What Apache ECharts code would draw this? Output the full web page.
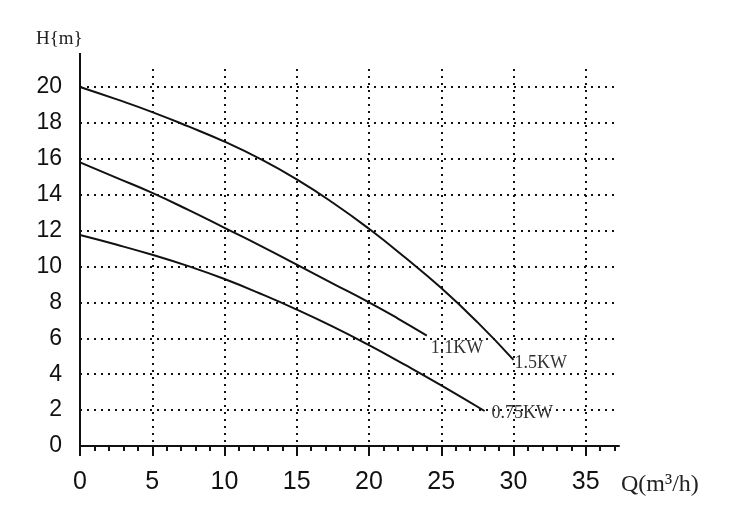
<!DOCTYPE html>
<html>
<head>
<meta charset="utf-8">
<title>H-Q curve</title>
<script src="https://cdn.jsdelivr.net/npm/echarts@6.0.0/dist/echarts.min.js"></script>
<style>
  html, body { margin: 0; padding: 0; background: #fff; }
  #main { width: 750px; height: 519px; }
</style>
</head>
<body>
<div id="main"></div>
<script>
// tick labels
const xTicks = [0, 5, 10, 15, 20, 25, 30, 35];
const yTicks = [0, 2, 4, 6, 8, 10, 12, 14, 16, 18, 20];

// curves: [Q, H]
const q075 = [0, 2.5, 5, 7.5, 10, 12.5, 15, 17.5, 20, 22.5, 25, 28];
const h075 = [11.75, 11.22, 10.65, 10.02, 9.3, 8.48, 7.6, 6.65, 5.62, 4.52, 3.38, 1.95];

const q11 = [0, 2.5, 5, 7.5, 10, 12.5, 15, 17.5, 20, 22, 24];
const h11 = [15.8, 14.95, 14.1, 13.15, 12.15, 11.15, 10.1, 9.05, 8.0, 7.1, 6.15];

const q15 = [0, 2.5, 5, 7.5, 10, 12.5, 15, 17.5, 20, 22.5, 25, 27.5, 30];
const h15 = [20.0, 19.32, 18.6, 17.8, 16.95, 15.98, 14.85, 13.55, 12.1, 10.5, 8.8, 6.9, 4.8];

const names = ['0.75KW', '1.1KW', '1.5KW'];

function pairs(xs, ys) {
  return xs.map((x, i) => [x, ys[i]]);
}

const chart = echarts.init(document.getElementById('main'));

const dotted = {
  color: '#111',
  width: 2,
  type: [2, 5]
};

function curve(name, data, offset) {
  return {
    name: name,
    type: 'line',
    smooth: true,
    showSymbol: false,
    data: data,
    lineStyle: { color: '#111', width: 2 },
    endLabel: {
      show: true,
      formatter: '{a}',
      offset: offset,
      distance: 4,
      color: '#333',
      fontFamily: 'Liberation Serif',
      fontSize: 18
    }
  };
}

const option = {
  animation: false,
  backgroundColor: '#fff',
  grid: {
    left: 80,
    right: 131,
    top: 69,
    bottom: 73,
    outerBoundsMode: 'none'
  },
  xAxis: {
    type: 'value',
    min: 0,
    max: 37.3,
    interval: 5,
    axisLine: { lineStyle: { color: '#111', width: 2 } },
    axisTick: {
      customValues: xTicks,
      length: 10,
      lineStyle: { color: '#111', width: 2 }
    },
    minorTick: {
      show: true,
      splitNumber: 5,
      length: 5,
      lineStyle: { color: '#111', width: 2 }
    },
    axisLabel: {
      customValues: xTicks,
      margin: 24,
      color: '#111',
      fontFamily: 'Liberation Sans',
      fontSize: 25
    },
    splitLine: { show: true, lineStyle: dotted }
  },
  yAxis: {
    type: 'value',
    min: 0,
    max: 21,
    interval: 2,
    axisLine: { show: true, lineStyle: { color: '#111', width: 2 } },
    axisTick: { show: false, customValues: yTicks },
    axisLabel: {
      customValues: yTicks,
      margin: 18,
      color: '#111',
      fontFamily: 'Liberation Sans',
      fontSize: 23
    },
    splitLine: { show: true, lineStyle: dotted }
  },
  series: [
    curve(names[0], pairs(q075, h075), [3, 2]),
    curve(names[1], pairs(q11, h11), [0, 13]),
    curve(names[2], pairs(q15, h15), [-3, 3])
  ]
};

chart.setOption(option);

// axis names and the short run of the H axis above the grid
const axisTop = chart.convertToPixel({ gridIndex: 0 }, [0, 21]);
const axisEnd = chart.convertToPixel({ gridIndex: 0 }, [37.3, 0]);

chart.setOption({
  graphic: [
    {
      type: 'line',
      shape: { x1: axisTop[0], y1: axisTop[1], x2: axisTop[0], y2: axisTop[1] - 16 },
      style: { stroke: '#111', lineWidth: 2 }
    },
    {
      type: 'text',
      left: 36,
      top: 30,
      style: {
        text: 'H{m}',
        fill: '#222',
        font: '19px "Liberation Serif"'
      }
    },
    {
      type: 'text',
      x: axisEnd[0] + 2,
      y: axisEnd[1] + 39,
      style: {
        text: 'Q(m³/h)',
        fill: '#222',
        font: '24px "Liberation Serif"',
        verticalAlign: 'middle'
      }
    }
  ]
});
</script>
</body>
</html>
